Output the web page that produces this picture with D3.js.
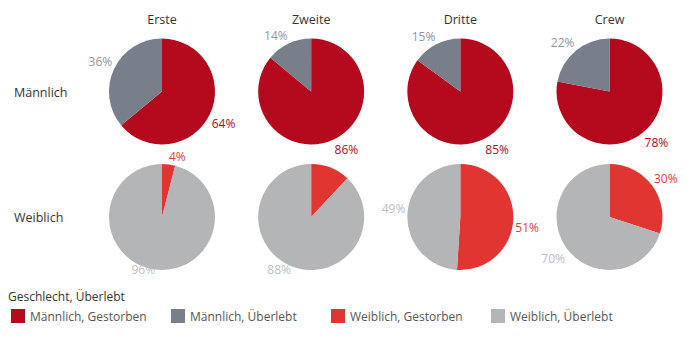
<!DOCTYPE html>
<html>
<head>
<meta charset="utf-8">
<script src="https://cdn.jsdelivr.net/npm/d3@7"></script>
<style>
  html, body { margin: 0; padding: 0; background: #fff; }
  svg { display: block; font-family: "Open Sans", "DejaVu Sans", sans-serif; }
</style>
</head>
<body>
<svg id="chart" width="691" height="337"></svg>
<script>
// Passenger classes (columns) and genders (rows)
const classes = ["Erste", "Zweite", "Dritte", "Crew"];
const genders = ["Männlich", "Weiblich"];
const outcomes = ["Gestorben", "Überlebt"];

// Share of each outcome in percent, per class
const maleDied = [64, 86, 85, 78];
const maleSurvived = [36, 14, 15, 22];
const femaleDied = [4, 12, 51, 30];
const femaleSurvived = [96, 88, 49, 70];

// Labels that are suppressed because they would collide with neighbours
const hiddenLabels = [["Weiblich", "Zweite", "Gestorben"]];

const legendTitle = "Geschlecht, Überlebt";
const legendItems = ["Männlich, Gestorben", "Männlich, Überlebt", "Weiblich, Gestorben", "Weiblich, Überlebt"];

const fillColor = {
  "Männlich, Gestorben": "#b5091d",
  "Männlich, Überlebt": "#787f8b",
  "Weiblich, Gestorben": "#e03531",
  "Weiblich, Überlebt": "#b3b5b6"
};
const labelColor = {
  "Männlich, Gestorben": "#b5091d",
  "Männlich, Überlebt": "#8d96a4",
  "Weiblich, Gestorben": "#e33b37",
  "Weiblich, Überlebt": "#bdbebf"
};

const values = {
  "Männlich": [maleDied, maleSurvived],
  "Weiblich": [femaleDied, femaleSurvived]
};

const svg = d3.select("#chart");
const radius = 53;

const x = d3.scalePoint().domain(classes).range([162, 609.5]);
const y = d3.scalePoint().domain(genders).range([91.5, 217]);

const pie = d3.pie().sort(null).value(d => d.value);
const arc = d3.arc().innerRadius(0).outerRadius(radius);

// Column headers
svg.append("g").selectAll("text")
  .data(classes).join("text")
  .attr("x", d => x(d))
  .attr("y", 24)
  .attr("text-anchor", "middle")
  .attr("font-size", 12.5)
  .attr("fill", "#333")
  .text(d => d);

// Row headers
svg.append("g").selectAll("text")
  .data(genders).join("text")
  .attr("x", 14)
  .attr("y", d => y(d) + 5)
  .attr("font-size", 12.5)
  .attr("fill", "#333")
  .text(d => d);

const isHidden = (g, c, o) => hiddenLabels.some(h => h[0] === g && h[1] === c && h[2] === o);

genders.forEach(g => {
  classes.forEach((c, i) => {
    const data = outcomes.map((o, k) => ({
      key: g + ", " + o, outcome: o, value: values[g][k][i]
    }));
    const cx = x(c), cy = y(g);
    const cell = svg.append("g").attr("transform", `translate(${cx},${cy})`);
    const arcs = pie(data);

    cell.selectAll("path")
      .data(arcs).join("path")
      .attr("d", arc)
      .attr("fill", d => fillColor[d.data.key]);

    // Percent labels sit just outside the rim, on the side the slice faces
    arcs.forEach(d => {
      if (isHidden(g, c, d.data.outcome)) return;
      const a = (d.startAngle + d.endAngle) / 2;
      const sx = Math.sin(a), sy = -Math.cos(a);
      const px = (radius + 2) * sx;
      let py = (radius + 2) * sy + (sy >= 0 ? 9 : -6);
      if (g === "Weiblich") py = Math.min(py, radius);
      cell.append("text")
        .attr("x", px)
        .attr("y", py)
        .attr("dy", "0.35em")
        .attr("text-anchor", sx >= 0 ? "start" : "end")
        .attr("font-size", 12)
        .attr("fill", labelColor[d.data.key])
        .text(d.data.value + "%");
    });
  });
});

// Legend
const legend = svg.append("g");
legend.append("text")
  .attr("x", 8)
  .attr("y", 301)
  .attr("font-size", 12)
  .attr("fill", "#333")
  .text(legendTitle);

const lx = d3.scalePoint().domain(legendItems).range([11, 491]);
const item = legend.selectAll("g.item")
  .data(legendItems).join("g")
  .attr("class", "item")
  .attr("transform", d => `translate(${lx(d)},309)`);
item.append("rect")
  .attr("width", 14).attr("height", 14)
  .attr("fill", d => fillColor[d]);
item.append("text")
  .attr("x", 19).attr("y", 11.5)
  .attr("font-size", 12)
  .attr("fill", "#555")
  .text(d => d);
</script>
</body>
</html>
